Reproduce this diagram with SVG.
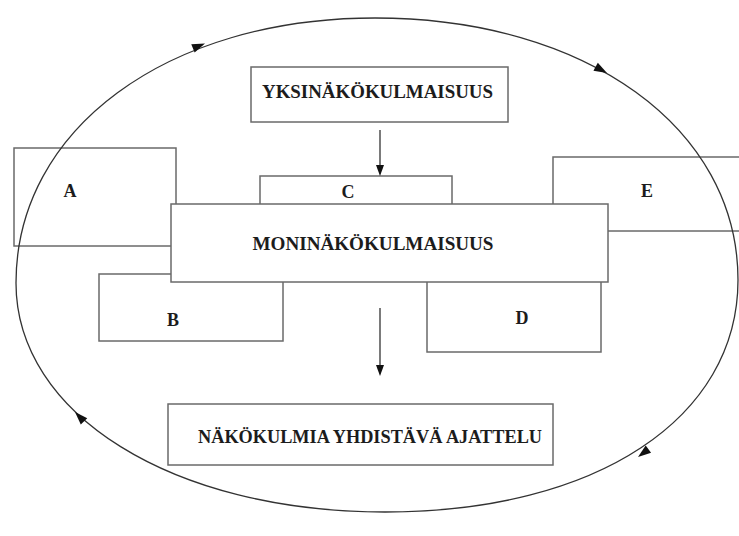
<svg xmlns="http://www.w3.org/2000/svg" width="739" height="536" viewBox="0 0 739 536">
<style>
.box{fill:#fff;stroke:#6a6a6a;stroke-width:1.5}
.lbl{font-family:"Liberation Serif","Times New Roman",serif;font-weight:bold;font-size:18px;fill:#1c1c1c;text-anchor:middle}
.big{font-size:19px}
.ln{fill:none;stroke:#333;stroke-width:1.3}
.ah{fill:#111}
</style>
<defs>
<path id="ah" d="M0,0 L-13,-4.5 L-13,4.5 Z"/>
<path id="ahs" d="M0,0 L-11,-4 L-11,4 Z"/>
</defs>
<rect width="739" height="536" fill="#fff"/>
<g id="node-A"><rect class="box" x="14" y="148" width="162" height="98"/><text class="lbl" x="70" y="197">A</text></g>
<g id="node-B"><rect class="box" x="99" y="274" width="184" height="67"/><text class="lbl" x="173" y="326">B</text></g>
<g id="node-C"><rect class="box" x="260" y="176" width="192" height="40"/><text class="lbl" x="348" y="198">C</text></g>
<g id="node-D"><rect class="box" x="427" y="260" width="174" height="92"/><text class="lbl" x="522" y="324">D</text></g>
<g id="node-E"><rect class="box" x="553" y="157" width="195" height="74"/><text class="lbl" x="647" y="197">E</text></g>
<g id="node-moni"><rect class="box" x="171" y="204" width="437" height="78"/><text class="lbl big" x="373" y="250" textLength="241" lengthAdjust="spacingAndGlyphs">MONINÄKÖKULMAISUUS</text></g>
<g id="node-yksi"><rect class="box" x="251" y="67" width="257" height="55"/><text class="lbl big" x="377.5" y="98" textLength="231" lengthAdjust="spacingAndGlyphs">YKSINÄKÖKULMAISUUS</text></g>
<g id="node-nako"><rect class="box" x="168" y="404" width="385" height="61"/><text class="lbl" x="370" y="443" textLength="344" lengthAdjust="spacingAndGlyphs">NÄKÖKULMIA YHDISTÄVÄ AJATTELU</text></g>
<g id="connectors">
<path class="ln" d="M16,283 C16,129 167,18 375,18 C586,18 738,128 738,280 C738,418 597,512 385,512 C172,512 16,414 16,283 Z"/>
<use href="#ah" class="ah" transform="translate(205,43.5) rotate(-22)"/>
<use href="#ah" class="ah" transform="translate(607,73) rotate(29)"/>
<use href="#ah" class="ah" transform="translate(638,457) rotate(143)"/>
<use href="#ah" class="ah" transform="translate(75,412) rotate(-134)"/>
<line class="ln" x1="380" y1="130" x2="380" y2="166"/>
<use href="#ahs" class="ah" transform="translate(380,176) rotate(90)"/>
<line class="ln" x1="380" y1="308" x2="380" y2="366"/>
<use href="#ahs" class="ah" transform="translate(380,376) rotate(90)"/>
</g>
</svg>
